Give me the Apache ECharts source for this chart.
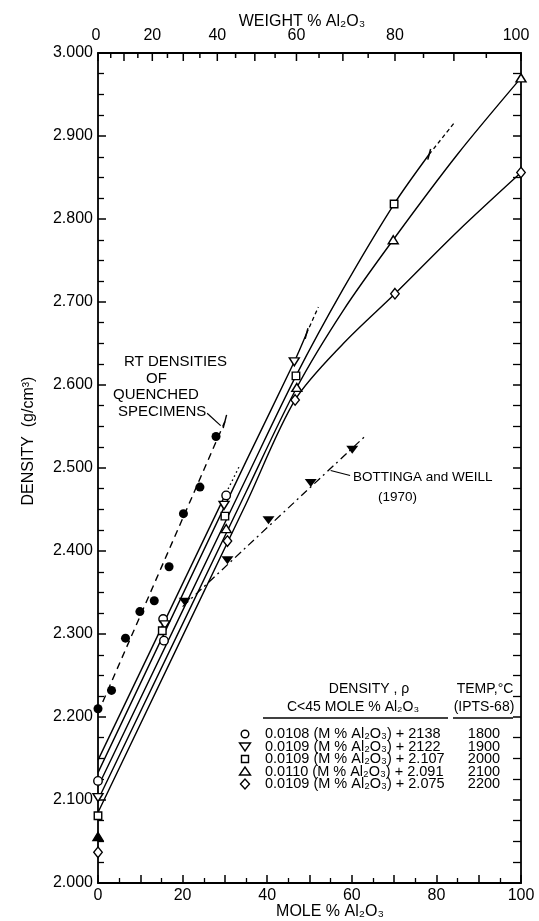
<!DOCTYPE html>
<html><head><meta charset="utf-8">
<script src="https://cdn.jsdelivr.net/npm/echarts@6/dist/echarts.min.js"></script>
<style>html,body{margin:0;padding:0;background:#fff}#c{width:539px;height:921px}</style>
</head><body><div id="c"></div>
<script>
// ---- axis ticks ----
const moleLabels = [0, 20, 40, 60, 80, 100];
const weightLabels = [0, 20, 40, 60, 80, 100];
const weightTicks = [0,5,10,15,20,25,30,35,40,45,50,55,60,65,70,75,80,85,90,95,100];

// ---- RT densities of quenched specimens ----
const rtQuenched = [[0,2.210],[3.2,2.232],[6.5,2.295],[9.9,2.327],[13.3,2.340],[16.8,2.381],[20.2,2.445],[24.1,2.477],[27.9,2.538]];
const rtLine = [[0,2.205],[30,2.556]];
const rtLeader = [[25.8,2.566],[29.0,2.551]];
const rtEndTick = [[29.6,2.548],[30.4,2.564]];

// ---- Bottinga and Weill (1970) ----
const bwPoints = [[20.5,2.339],[30.6,2.389],[40.3,2.437],[50.3,2.482],[60.1,2.522]];
const bwLine = [[20,2.333],[63.5,2.540]];
const bwLeader = [[55.0,2.497],[59.6,2.491]];

// ---- measured densities (markers) ----
const m1800 = [[0,2.123],[15.4,2.318],[15.6,2.292],[30.3,2.467]];
const m1900 = [[0,2.103],[15.8,2.311],[29.8,2.455],[46.4,2.628]];
const m2000 = [[0,2.081],[15.2,2.304],[30.0,2.442],[46.8,2.611],[70.0,2.818]];
const m2100 = [[0,2.056],[30.3,2.427],[47.0,2.597],[69.8,2.775],[100,2.970]];
const m2200 = [[0,2.037],[30.6,2.412],[46.6,2.582],[70.2,2.710],[100,2.856]];

// ---- isotherm curves ----
const fit1800 = [[0,2.148],[30.3,2.470]];
const ext1800 = [[30.3,2.470],[33.5,2.503]];
const fit1900 = [[0,2.133],[35,2.508],[46.4,2.628],[49.3,2.662]];
const ext1900 = [[49.3,2.662],[52.1,2.694]];
const fit2000 = [[0,2.116],[35,2.487],[46.8,2.611],[58,2.716],[70,2.818],[78.3,2.878]];
const ext2000 = [[78.3,2.878],[84.4,2.917]];
const fit2100 = [[0,2.100],[35,2.471],[47,2.597],[58,2.690],[69.8,2.775],[85,2.878],[100,2.970]];
const fit2200 = [[0,2.085],[35,2.457],[46.6,2.582],[58,2.650],[70.2,2.710],[85,2.785],[100,2.856]];
const endTicks = [[49.3,2.662],[78.3,2.878]];

// ---- legend table ----
const legendEq = ['0.0108 (M % Al₂O₃) + 2138','0.0109 (M % Al₂O₃) + 2122','0.0109 (M % Al₂O₃) + 2.107','0.0110 (M % Al₂O₃) + 2.091','0.0109 (M % Al₂O₃) + 2.075'];
const legendTemp = ['1800','1900','2000','2100','2200'];

const FONT = 'Liberation Sans, Arial, sans-serif';
const BLK = '#000';
const wtToMole = w => { const a = w/101.96, s = (100-w)/60.08; return 100*a/(a+s); };

const chart = echarts.init(document.getElementById('c'), null, {renderer:'canvas'});
const axLine = {show:true, onZero:false, lineStyle:{color:BLK, width:1.8}};
const lineS = (data, type, width) => ({type:'line', data, symbol:'none', smooth:0.3, xAxisIndex:0, yAxisIndex:0, silent:true,
  lineStyle:{color:BLK, width:width||1.4, type:type||'solid'}, z:2});
const openS = (data, symbol, size, rotate, filledFirst) => ({type:'scatter', symbol, symbolSize:size, symbolRotate:rotate||0,
  data: data.map((d,i)=> (filledFirst && i===0) ? {value:d, itemStyle:{color:BLK}} : d),
  itemStyle:{color:'#fff', borderColor:BLK, borderWidth:1.4, opacity:1}, z:5, silent:true});

const rows = [734, 746.5, 759, 771.5, 784];
const graphics = [];
const txt = (text, x, y, size, align, extra) => graphics.push(Object.assign({type:'text', x, y, silent:true,
  style:{text, font: size+'px '+FONT, fill:BLK, align:align||'left', verticalAlign:'middle', textAlign:align||'left', textVerticalAlign:'middle'}}, extra||{}));
txt('WEIGHT % Al₂O₃', 302, 22, 16, 'center');
txt('MOLE % Al₂O₃', 330, 912, 16, 'center');
graphics.push({type:'text', x:29, y:441, rotation:Math.PI/2, silent:true,
  style:{text:'DENSITY  (g/cm³)', font:'16px '+FONT, fill:BLK, align:'center', verticalAlign:'middle', textAlign:'center', textVerticalAlign:'middle'}});
txt('RT DENSITIES', 124, 362, 15);
txt('OF', 146, 379, 15);
txt('QUENCHED', 113, 395, 15);
txt('SPECIMENS', 118, 412, 15);
txt('BOTTINGA and WEILL', 353, 477, 13.5);
txt('(1970)', 378, 497, 13.5);
txt('DENSITY , ρ', 369, 689, 14, 'center');
txt('TEMP,°C', 485, 689, 14, 'center');
txt('C<45 MOLE % Al₂O₃', 287, 707, 14);
txt('(IPTS-68)', 484, 707, 14, 'center');
graphics.push({type:'line', silent:true, shape:{x1:263,y1:718,x2:448,y2:718}, style:{stroke:BLK, lineWidth:1.3}});
graphics.push({type:'line', silent:true, shape:{x1:453,y1:718,x2:513,y2:718}, style:{stroke:BLK, lineWidth:1.3}});
rows.forEach((y,i)=>{
  txt(legendEq[i], 265, y, 14.5);
  txt(legendTemp[i], 484, y, 14.5, 'center');
});
const lx = 245, st = {fill:'#fff', stroke:BLK, lineWidth:1.4};
graphics.push({type:'circle', silent:true, shape:{cx:lx, cy:rows[0], r:3.8}, style:st});
graphics.push({type:'polygon', silent:true, shape:{points:[[lx-5.5,rows[1]-3.5],[lx+5.5,rows[1]-3.5],[lx,rows[1]+4.5]]}, style:st});
graphics.push({type:'rect', silent:true, shape:{x:lx-3.5, y:rows[2]-3.5, width:7, height:7}, style:st});
graphics.push({type:'polygon', silent:true, shape:{points:[[lx-5.5,rows[3]+3.5],[lx+5.5,rows[3]+3.5],[lx,rows[3]-4.5]]}, style:st});
graphics.push({type:'polygon', silent:true, shape:{points:[[lx-4.5,rows[4]],[lx,rows[4]-5],[lx+4.5,rows[4]],[lx,rows[4]+5]]}, style:st});

const option = {
  animation:false,
  backgroundColor:'#fff',
  grid:{left:98, right:18, top:53, bottom:38, containLabel:false},
  xAxis:[
    {type:'value', position:'bottom', min:0, max:100, interval:10, axisLine:axLine,
     axisTick:{show:true, inside:true, length:8, lineStyle:{color:BLK, width:1.5}},
     minorTick:{show:true, splitNumber:2, length:5, lineStyle:{color:BLK, width:1.3}},
     axisLabel:{color:BLK, fontFamily:FONT, fontSize:16, margin:5, formatter:v => moleLabels.includes(v) ? String(v) : ''},
     splitLine:{show:false}},
    {type:'value', position:'top', min:0, max:100, axisLine:axLine, axisTick:{show:false}, axisLabel:{show:false}, splitLine:{show:false}}
  ],
  yAxis:[
    {type:'value', position:'left', min:2, max:3, interval:0.1, axisLine:axLine,
     axisTick:{show:true, inside:true, length:8, lineStyle:{color:BLK, width:1.5}},
     minorTick:{show:true, splitNumber:4, length:6, lineStyle:{color:BLK, width:1.3}},
     axisLabel:{color:BLK, fontFamily:FONT, fontSize:16, margin:5, formatter:v => v.toFixed(3)},
     splitLine:{show:false}},
    {type:'value', position:'right', min:2, max:3, interval:0.1, axisLine:axLine,
     axisTick:{show:true, inside:true, length:8, lineStyle:{color:BLK, width:1.5}},
     minorTick:{show:true, splitNumber:4, length:8, lineStyle:{color:BLK, width:1.3}},
     axisLabel:{show:false}, splitLine:{show:false}}
  ],
  graphic: graphics,
  series:[
    // top weight-% axis
    {type:'custom', xAxisIndex:0, yAxisIndex:0, clip:false, silent:true, z:6,
     data: weightTicks.map(w => [w, 3]), encode:{x:0, y:1},
     renderItem:(params, api) => {
       const w = api.value(0);
       const p = api.coord([wtToMole(w), 3]);
       const len = (w % 10 === 0) ? 8 : 5;
       const ch = [{type:'line', shape:{x1:p[0], y1:p[1], x2:p[0], y2:p[1]+len}, style:{stroke:BLK, lineWidth:1.5}}];
       if (weightLabels.includes(w)) ch.push({type:'text', style:{text:String(w), x:p[0] - (w===100?5:(w===0?2:0)), y:p[1]-9, font:'16px '+FONT, fill:BLK, align:'center', verticalAlign:'bottom'}});
       return {type:'group', children:ch};
     }},
    lineS(rtLine, [7,5], 1.4),
    lineS(rtLeader, 'solid', 1.2),
    lineS(rtEndTick, 'solid', 1.4),
    lineS(bwLine, [8,4,2,4], 1.3),
    lineS(bwLeader, 'solid', 1.2),
    lineS(fit1800), lineS(ext1800, [1.5,3], 1.4),
    lineS(fit1900), lineS(ext1900, [4,3], 1.3),
    lineS(fit2000), lineS(ext2000, [4,3], 1.3),
    lineS(fit2100),
    lineS(fit2200),
    {type:'scatter', data:endTicks, symbol:'rect', symbolSize:[1.5,11], symbolRotate:-15, itemStyle:{color:BLK, opacity:1}, z:4, silent:true},
    {type:'scatter', data:rtQuenched, symbol:'circle', symbolSize:9, itemStyle:{color:BLK, opacity:1}, z:5, silent:true},
    {type:'scatter', data:bwPoints, symbol:'triangle', symbolSize:[12,8], symbolRotate:180, itemStyle:{color:BLK, opacity:1}, z:5, silent:true},
    openS(m1800, 'circle', 8.5),
    openS(m1900, 'triangle', [10,8], 180),
    openS(m2000, 'rect', 7.5),
    openS(m2100, 'triangle', [10,8], 0, true),
    openS(m2200, 'diamond', [8.5,10.5])
  ]
};
chart.setOption(option);
</script></body></html>
